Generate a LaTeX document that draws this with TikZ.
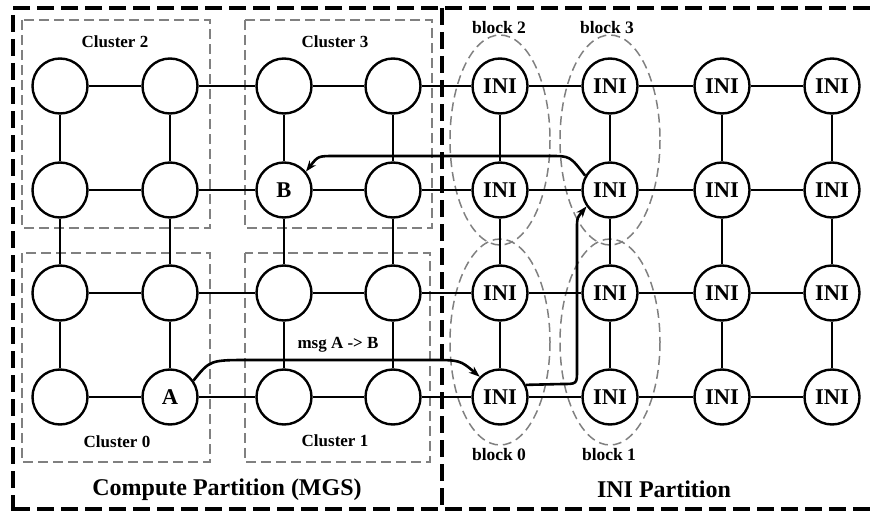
\documentclass[tikz,border=0pt]{standalone}
\usepackage{fontspec}
\setmainfont{Liberation Serif}
\usetikzlibrary{arrows.meta}

\begin{document}
\begin{tikzpicture}[x=1pt,y=-1pt,
  router/.style={circle, draw=black, line width=2.4pt, fill=white,
    minimum size=55pt, inner sep=0pt, font=\bfseries\fontsize{22.5}{22.5}\selectfont},
  link/.style={line width=1.8pt},
  frame/.style={line width=3.6pt, dash pattern=on 17pt off 7pt},
  cluster/.style={draw=black!50, line width=1.5pt, dash pattern=on 10pt off 5pt},
  blockring/.style={draw=black!50, line width=1.5pt, dash pattern=on 9pt off 5pt},
  lbl/.style={font=\bfseries\fontsize{17}{17}\selectfont},
  blbl/.style={font=\bfseries\fontsize{17.5}{17.5}\selectfont},
  big/.style={font=\bfseries\fontsize{24}{24}\selectfont},
  msg/.style={line width=2.6pt, -{Stealth[length=11pt,width=8pt]}}
]
\useasboundingbox (0,0) rectangle (870,511);

% cluster boxes of the compute partition
\draw[cluster] (22,20) rectangle (210,228);
\draw[cluster] (245,20) rectangle (432,228);
\draw[cluster] (22,253) rectangle (210,462);
\draw[cluster] (245,253) rectangle (430,462);

% INI blocks
\draw[blockring] (500,140) ellipse [x radius=50, y radius=105];
\draw[blockring] (610,140) ellipse [x radius=50, y radius=105];
\draw[blockring] (500,342) ellipse [x radius=50, y radius=103];
\draw[blockring] (610,342) ellipse [x radius=50, y radius=103];

% mesh of routers
\foreach \c/\x in {1/60,2/170,3/284,4/393,5/500,6/610,7/722,8/832}{
  \foreach \r/\y in {1/86,2/190,3/293,4/397}{
    \node[router] (n\c\r) at (\x,\y)
      {\ifnum\c>4 INI\else\ifnum\c\r=24 A\else\ifnum\c\r=32 B\fi\fi\fi};
  }
}

% horizontal links
\foreach \c in {1,...,7}{
  \pgfmathtruncatemacro{\cn}{\c+1}
  \foreach \r in {1,...,4}{
    \draw[link] (n\c\r) -- (n\cn\r);
  }
}
% vertical links
\foreach \c in {1,...,8}{
  \foreach \r in {1,2,3}{
    \pgfmathtruncatemacro{\rn}{\r+1}
    \draw[link] (n\c\r) -- (n\c\rn);
  }
}

% partition frame
\draw[frame] (870,8) -- (13,8) -- (13,511);
\draw[frame] (13,509) -- (870,509);
\draw[frame] (442,8) -- (442,511);

% labels
\node[lbl] (cl2) at (115,42) {Cluster 2};
\node[lbl] (cl3) at (335,42) {Cluster 3};
\node[lbl] (cl0) at (117,442) {Cluster 0};
\node[lbl] (cl1) at (335,441) {Cluster 1};
\node[blbl] (bk2) at (499,28) {block 2};
\node[blbl] (bk3) at (607,28) {block 3};
\node[blbl] (bk0) at (499,455) {block 0};
\node[blbl] (bk1) at (609,455) {block 1};
\node[big] (cp) at (227,490) {Compute Partition (MGS)};
\node[big] (ip) at (664,489) {INI Partition};
\node[lbl] (msglbl) at (338,345) {msg A -> B};

% message route A -> B
\draw[msg] (n24.35) .. controls (210,360) .. (250,360) -- (430,360)
  .. controls (460,360) .. (n54.135);
\draw[msg] (n54.25) -- (562,384) .. controls (577,384) .. (577,370)
  -- (577,228) .. controls (577,218) .. (n62.215);
\draw[msg] (n62.150) .. controls (570,156) .. (550,156) -- (335,156)
  .. controls (318,156) .. (n32.40);
\end{tikzpicture}
\end{document}
